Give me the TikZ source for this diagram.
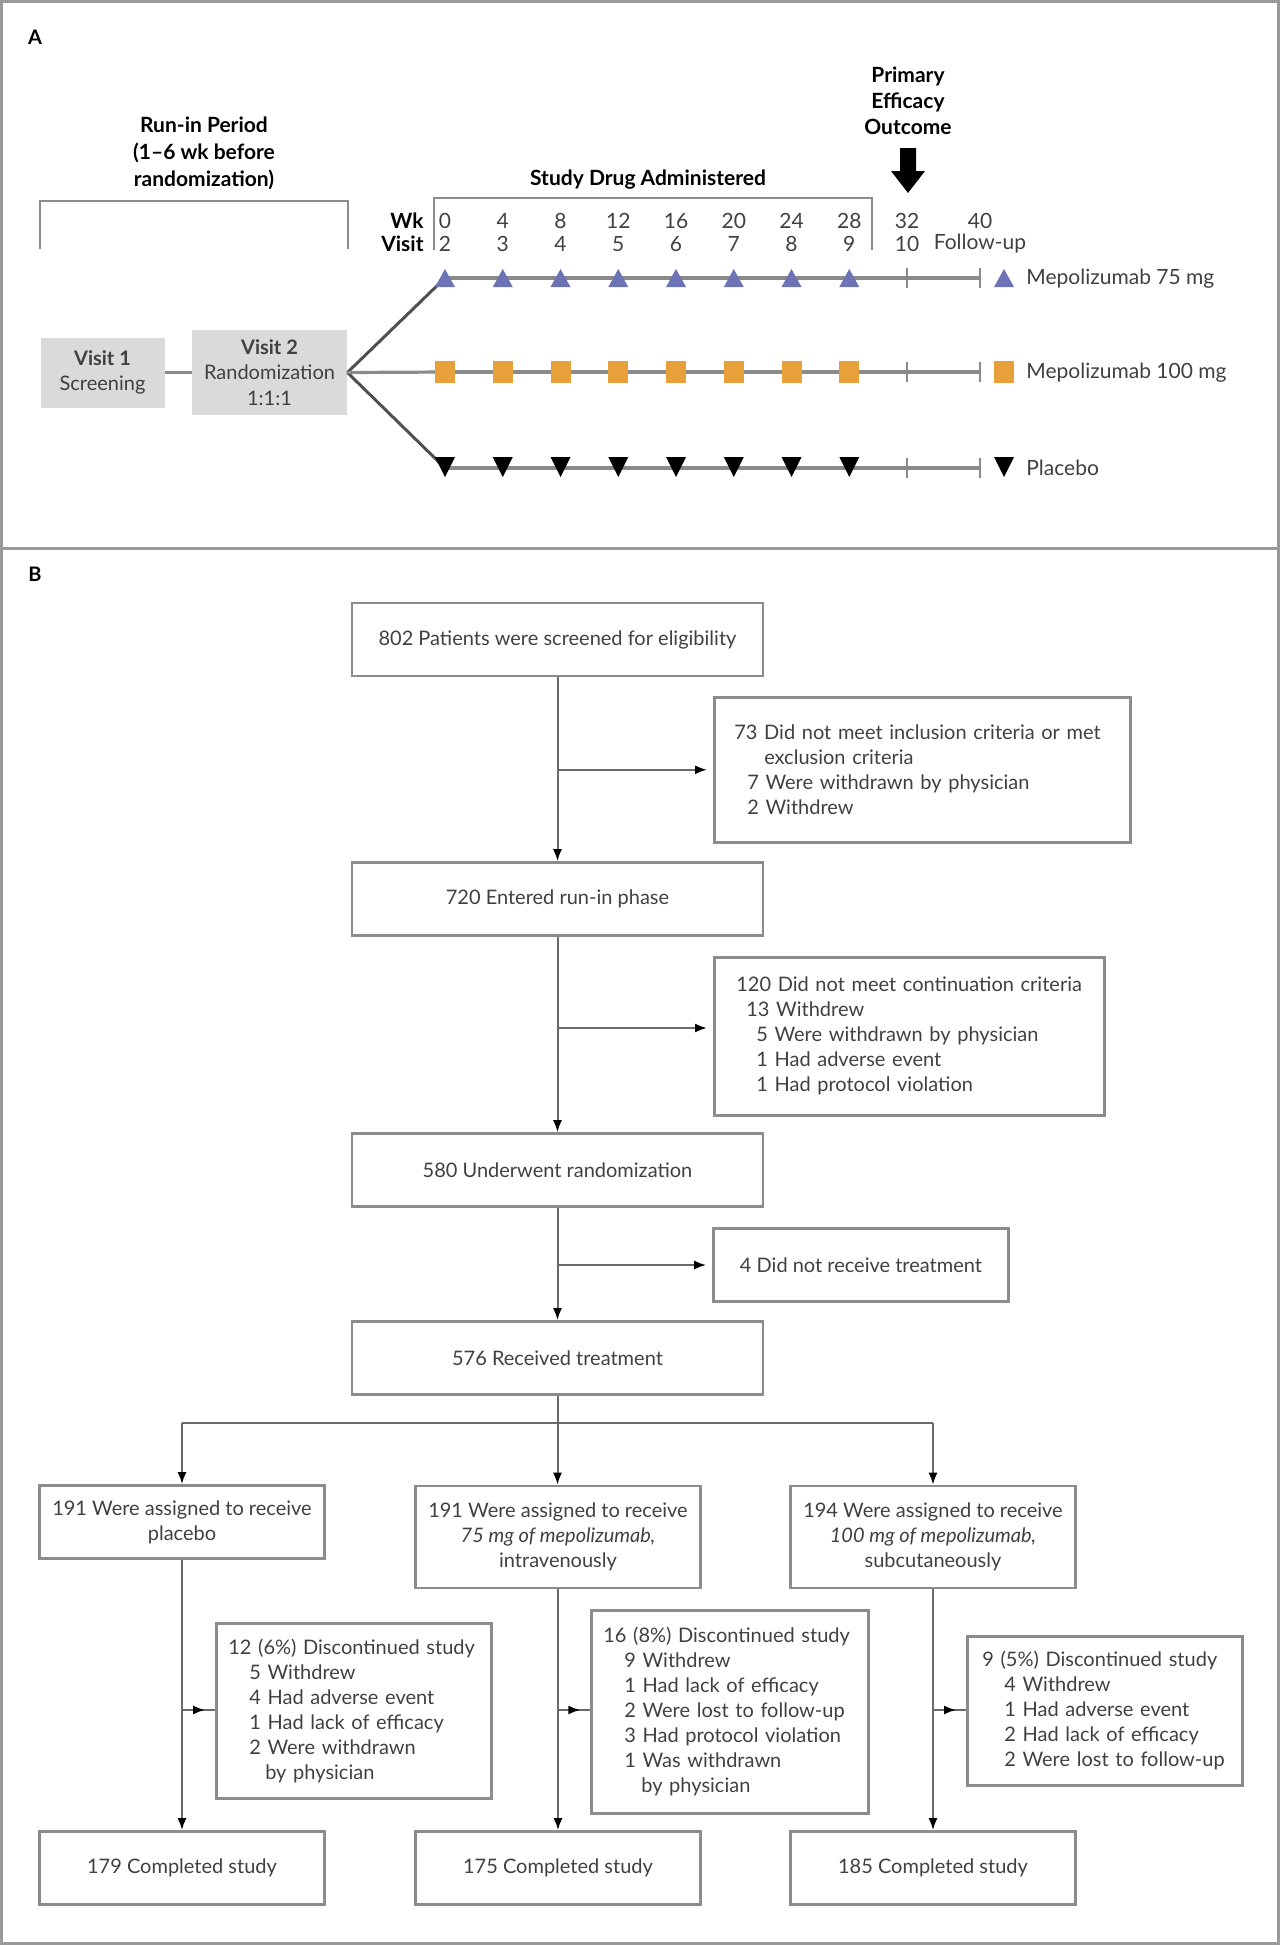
\documentclass[tikz,border=0pt]{standalone}
\usepackage{fontspec}
\setmainfont{Lato}
\usetikzlibrary{arrows.meta,calc}
\definecolor{framegray}{HTML}{9A9A9A}
\definecolor{boxgray}{HTML}{8C8C8C}
\definecolor{flowgray}{HTML}{6A6A6A}
\definecolor{txtgray}{HTML}{404040}
\definecolor{timegray}{HTML}{8A8A8A}
\definecolor{fangray}{HTML}{505050}
\definecolor{visitfill}{HTML}{DADADA}
\definecolor{mepoblue}{HTML}{6C74B6}
\definecolor{mepoorange}{HTML}{E8A13A}
\begin{document}
\begin{tikzpicture}
		[x=0.5pt,y=-0.5pt,
		font=\fontsize{10.5}{13}\selectfont,
		every node/.style={inner sep=0pt,text=txtgray},
		heading/.style={font=\fontsize{10.5}{13.5}\selectfont\bfseries,text=black,align=center},
		panel/.style={font=\fontsize{10}{12}\selectfont\bfseries,text=black},
		visit/.style={fill=visitfill,align=center,font=\fontsize{10}{12.7}\selectfont},
		main/.style={draw=boxgray,line width=1.3pt,align=center,font=\fontsize{10}{12.5}\selectfont,minimum width=205.5pt,minimum height=36.5pt},
		arm/.style={main,minimum width=142.5pt},
		disc/.style={draw=boxgray,line width=1.3pt,align=left,anchor=north west,font=\fontsize{10}{12.5}\selectfont,inner xsep=6pt},
		flow/.style={draw=flowgray,line width=1pt},
		arr/.style={flow,-{Latex[length=6pt,width=4.5pt,black]}},
		track/.style={draw=timegray,line width=1.6pt},
		fan/.style={draw=fangray,line width=1.5pt},
		notch/.style={draw=timegray,line width=0.8pt},
		bracket/.style={draw=boxgray,line width=1.2pt}]
		\useasboundingbox (0,0) rectangle (1280,1945);
		\draw[framegray,line width=1.5pt] (1.5,1.5) rectangle (1278.5,1943.5);
		\draw[framegray,line width=1.5pt] (1.5,548) -- (1278.5,548);
		\node[panel] (A) at (35,37) {A};
		\node[heading] (runinHead) at (204,153) {Run-in Period\\(1–6 wk before\\randomization)};
		\draw[bracket] (40,249) -- (40,201) -- (348,201) -- (348,249);
		\node[heading] (studyHead) at (648,180) {Study Drug Administered};
		\draw[bracket] (434,250) -- (434,198) -- (872,198) -- (872,250);
		\node[heading,font=\fontsize{10.5}{13}\selectfont\bfseries] (primary) at (908,101) {Primary\\Efficacy\\Outcome};
		\fill[black] (900,148) -- (916,148) -- (916,171) -- (925,171) -- (908,193) -- (891,171) -- (900,171) -- cycle;
		\node[heading,anchor=east] (wkLab) at (424,221) {Wk};
		\node[heading,anchor=east] (visitLab) at (424,244) {Visit};
		\foreach \w [count=\i from 0] in {0,4,8,12,16,20,24,28,32}
			\node (wk\i) at ({445+57.75*\i},221) {\w};
		\node (wk9) at (980,221) {40};
		\foreach \v [count=\i from 0] in {2,3,4,5,6,7,8,9,10}
			\node (vis\i) at ({445+57.75*\i},244) {\v};
		\node (vis9) at (980,244) {Follow-up};
		\node[visit,minimum width=62pt,minimum height=35pt] (visit1) at (102.5,372.5) {\textbf{Visit 1}\\Screening};
		\node[visit,minimum width=77.5pt,minimum height=42.5pt] (visit2) at (269.5,372.5) {\textbf{Visit 2}\\Randomization\\1:1:1};
		\draw[track] (visit1) -- (visit2);
		\foreach \row/\y in {low/278,high/372,pla/468}
		{
			\coordinate (\row0) at (445,\y);
			\coordinate (\row9) at (980,\y);
			\draw[track] (\row0) -- (\row9);
			\draw[notch] (907,\y-10) -- (907,\y+10);
			\draw[notch] (980,\y-10) -- (980,\y+10);
		}
		\draw[fan] (visit2.east) -- (low0);
		\draw[fan] (visit2.east) -- (pla0);
		\draw[track] (visit2.east) -- (high0);
		\foreach \i in {0,...,7}
		{
			\fill[mepoblue] ({435+57.75*\i},287) -- ++(20,0) -- ++(-10,-18) -- cycle;
			\fill[mepoorange] ({435+57.75*\i},361) rectangle ++(20,22);
			\fill[black] ({435+57.75*\i},457) -- ++(20,0) -- ++(-10,20) -- cycle;
		}
		\fill[mepoblue] (994,287) -- ++(20,0) -- ++(-10,-18) -- cycle;
		\fill[mepoorange] (994,361) rectangle ++(20,22);
		\fill[black] (994,457) -- ++(20,0) -- ++(-10,20) -- cycle;
		\node[anchor=west] (legLow) at (1026,279) {Mepolizumab 75 mg};
		\node[anchor=west] (legHigh) at (1026,373) {Mepolizumab 100 mg};
		\node[anchor=west] (legPla) at (1026,468) {Placebo};
		\node[panel] (B) at (35,574) {B};
		\node[main] (screen) at (557.5,639.5) {802 Patients were screened for eligibility};
		\node[main] (runin) at (557.5,899) {720 Entered run-in phase};
		\node[main] (random) at (557.5,1170) {580 Underwent randomization};
		\node[main] (treated) at (557.5,1358) {576 Received treatment};
		\node[disc,inner xsep=10pt,text width=188pt,minimum height=72.5pt] (excl1) at (713,696)
		{73 Did not meet inclusion criteria or met\\
			\hspace*{15pt}exclusion criteria\\
			\hspace*{6.5pt}7 Were withdrawn by physician\\
			\hspace*{6.5pt}2 Withdrew};
		\node[disc,inner xsep=11pt,text width=173pt,minimum height=79pt] (excl2) at (713,956)
		{120 Did not meet continuation criteria\\
			\hspace*{5pt}13 Withdrew\\
			\hspace*{10pt}5 Were withdrawn by physician\\
			\hspace*{10pt}1 Had adverse event\\
			\hspace*{10pt}1 Had protocol violation};
		\node[main,minimum width=147.5pt] (notreat) at (861,1265) {4 Did not receive treatment};
		\node[arm] (asgPla) at (182,1522) {191 Were assigned to receive\\placebo};
		\node[arm,minimum height=51pt] (asgLow) at (558,1537) {191 Were assigned to receive\\\textit{75 mg of mepolizumab,}\\intravenously};
		\node[arm,minimum height=51pt] (asgHigh) at (933,1537) {194 Were assigned to receive\\\textit{100 mg of mepolizumab,}\\subcutaneously};
		\node[disc,text width=125.5pt,minimum height=87.5pt] (discPla) at (215,1622)
		{12 (6\%) Discontinued study\\
			\hspace*{10.5pt}5 Withdrew\\
			\hspace*{10.5pt}4 Had adverse event\\
			\hspace*{10.5pt}1 Had lack of efficacy\\
			\hspace*{10.5pt}2 Were withdrawn\\
			\hspace*{18.5pt}by physician};
		\node[disc,text width=126.5pt,minimum height=101.5pt] (discLow) at (590,1609)
		{16 (8\%) Discontinued study\\
			\hspace*{10.5pt}9 Withdrew\\
			\hspace*{10.5pt}1 Had lack of efficacy\\
			\hspace*{10.5pt}2 Were lost to follow-up\\
			\hspace*{10.5pt}3 Had protocol violation\\
			\hspace*{10.5pt}1 Was withdrawn\\
			\hspace*{19pt}by physician};
		\node[disc,inner xsep=7.5pt,text width=122.5pt,minimum height=74.5pt] (discHigh) at (966,1635)
		{9 (5\%) Discontinued study\\
			\hspace*{11pt}4 Withdrew\\
			\hspace*{11pt}1 Had adverse event\\
			\hspace*{11pt}2 Had lack of efficacy\\
			\hspace*{11pt}2 Were lost to follow-up};
		\node[arm] (donePla) at (182,1868) {179 Completed study};
		\node[arm] (doneLow) at (558,1868) {175 Completed study};
		\node[arm] (doneHigh) at (933,1868) {185 Completed study};
		\draw[arr] (screen) -- (runin);
		\draw[arr] (runin) -- (random);
		\draw[arr] (random) -- (treated);
		\coordinate (tapExcl1) at (screen.south |- excl1.west);
		\coordinate (tapExcl2) at (runin.south |- 0,1028);
		\coordinate (tapNotreat) at (random.south |- notreat.west);
		\draw[arr,shorten >=3pt] (tapExcl1) -- (excl1.west);
		\draw[arr,shorten >=3pt] (tapExcl2) -- (tapExcl2 -| excl2.west);
		\draw[arr,shorten >=3pt] (tapNotreat) -- (notreat.west);
		\coordinate (split) at (treated.south |- 0,1423);
		\draw[flow] (treated.south) -- (split);
		\draw[flow] (split -| asgPla.north) -- (split -| asgHigh.north);
		\draw[arr] (split -| asgPla.north) -- (asgPla.north);
		\draw[arr] (split) -- (split |- asgLow.north);
		\draw[arr] (split -| asgHigh.north) -- (asgHigh.north);
		\foreach \arm in {Pla,Low,High}
		{
			\draw[arr] (asg\arm) -- (done\arm);
			\coordinate (tap\arm) at (asg\arm.south |- 0,1710);
			\coordinate (mid\arm) at ($(tap\arm)!0.7!(tap\arm -| disc\arm.west)$);
			\draw[flow] (tap\arm) -- (tap\arm -| disc\arm.west);
			\draw[arr] (tap\arm) -- (mid\arm);
		}
\end{tikzpicture}
\end{document}
